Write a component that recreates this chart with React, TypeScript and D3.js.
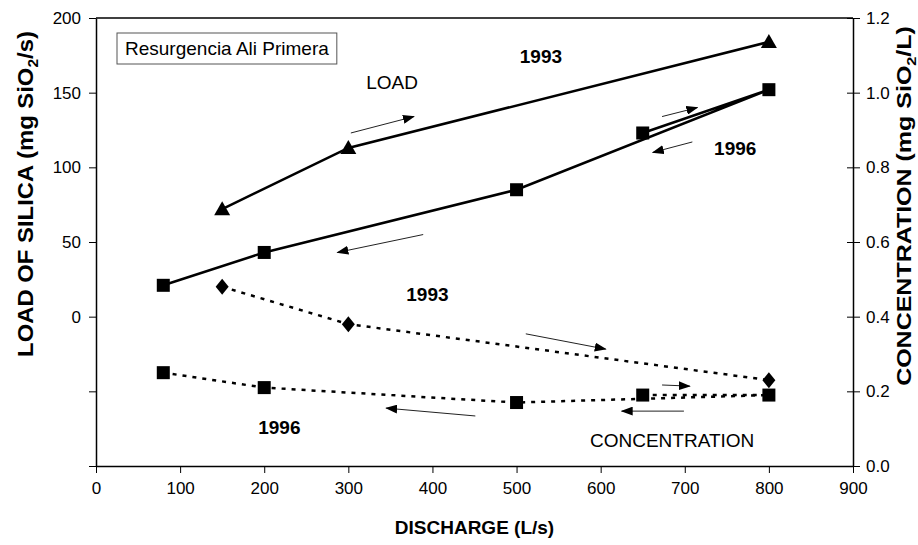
import React, { useEffect, useRef } from 'react';
import * as d3 from 'd3';

// discharge ticks and axis ticks
const xTicks = [0, 100, 200, 300, 400, 500, 600, 700, 800, 900];
const loadTicks = [-100, -50, 0, 50, 100, 150, 200];
const concTicks = [0, 0.2, 0.4, 0.6, 0.8, 1.0, 1.2];

// LOAD 1993 (triangles)
const q93 = [150, 300, 800];
const load93 = [72, 113, 184];
// LOAD 1996 (squares), loop order: rising then falling
const q96 = [650, 800, 500, 200, 80];
const load96 = [123, 152, 85, 43, 21];
// CONCENTRATION 1993 (diamonds)
const conc93 = [0.48, 0.38, 0.23];
// CONCENTRATION 1996 (squares)
const conc96 = [0.19, 0.19, 0.17, 0.21, 0.25];

// hysteresis arrows [q1, v1, q2, v2]
const loadArrows = [
  [303, 123, 378, 134],
  [673, 134, 715, 140],
  [709, 117, 662, 110],
  [389, 55, 287, 43],
];
const concArrows = [
  [511, 0.354, 606, 0.313],
  [673, 0.217, 706, 0.214],
  [699, 0.147, 625, 0.147],
  [451, 0.134, 345, 0.155],
];

// annotation labels [text, q, value, bold]
const loadLabels: [string, number, number, boolean][] = [
  ['LOAD', 352, 157, false],
  ['1993', 529, 174, true],
  ['1996', 760, 113, true],
  ['1993', 394, 15, true],
];
const concLabels: [string, number, number, boolean][] = [
  ['1996', 218, 0.104, true],
  ['CONCENTRATION', 685, 0.07, false],
];

const font = 'Liberation Sans, Arial, sans-serif';

function App() {
  const svgRef = useRef<SVGSVGElement>(null);
  const width = 918;
  const height = 545;
  const left = 96;
  const right = 853;
  const top = 18;
  const bottom = 466;

  useEffect(() => {
    const svg = d3.select(svgRef.current);
    svg.selectAll('*').remove();

    const x = d3.scaleLinear().domain([0, 900]).range([left, right]);
    const yL = d3.scaleLinear().domain([-100, 200]).range([bottom, top]);
    const yR = d3.scaleLinear().domain([0, 1.2]).range([bottom, top]);

    svg.append('defs')
      .append('marker')
      .attr('id', 'ah')
      .attr('markerUnits', 'userSpaceOnUse')
      .attr('markerWidth', 12)
      .attr('markerHeight', 9)
      .attr('refX', 11)
      .attr('refY', 4.5)
      .attr('orient', 'auto')
      .append('path')
      .attr('d', 'M0,0 L12,4.5 L0,9 Z')
      .attr('fill', '#000');

    // frame top line
    svg.append('line')
      .attr('x1', left).attr('x2', right)
      .attr('y1', top).attr('y2', top)
      .attr('stroke', '#000').attr('stroke-width', 1.5);

    const styleAxis = (g: any) => {
      g.selectAll('.domain').attr('stroke', '#000').attr('stroke-width', 1.5);
      g.selectAll('.tick line').attr('stroke', '#000').attr('stroke-width', 1);
      g.selectAll('text').attr('font-family', font).attr('font-size', 17).attr('fill', '#000');
    };

    const gx = svg.append('g')
      .attr('transform', `translate(0,${bottom})`)
      .call(d3.axisBottom(x).tickValues(xTicks).tickSize(7).tickSizeOuter(0).tickPadding(9).tickFormat(d3.format('d')) as any);
    styleAxis(gx);

    const gl = svg.append('g')
      .attr('transform', `translate(${left},0)`)
      .call(d3.axisLeft(yL).tickValues(loadTicks).tickSize(7).tickSizeOuter(0).tickPadding(8)
        .tickFormat((d: any) => (d >= 0 ? String(d) : '')) as any);
    styleAxis(gl);

    const gr = svg.append('g')
      .attr('transform', `translate(${right},0)`)
      .call(d3.axisRight(yR).tickValues(concTicks).tickSize(7).tickSizeOuter(0).tickPadding(6)
        .tickFormat(d3.format('.1f')) as any);
    styleAxis(gr);
    gr.selectAll('.tick line').attr('x1', -6);

    // lines
    const lineLoad = d3.line<[number, number]>().x(d => x(d[0])).y(d => yL(d[1]));
    const lineConc = d3.line<[number, number]>().x(d => x(d[0])).y(d => yR(d[1]));
    const pts = (qs: number[], vs: number[]) => qs.map((q, i) => [q, vs[i]] as [number, number]);

    svg.append('path').attr('d', lineLoad(pts(q93, load93)))
      .attr('fill', 'none').attr('stroke', '#000').attr('stroke-width', 2.5);
    svg.append('path').attr('d', lineLoad(pts(q96, load96)))
      .attr('fill', 'none').attr('stroke', '#000').attr('stroke-width', 2.5);
    svg.append('path').attr('d', lineConc(pts(q93, conc93)))
      .attr('fill', 'none').attr('stroke', '#000').attr('stroke-width', 2.5).attr('stroke-dasharray', '4 6');
    svg.append('path').attr('d', lineConc(pts(q96, conc96)))
      .attr('fill', 'none').attr('stroke', '#000').attr('stroke-width', 2.5).attr('stroke-dasharray', '4 6');

    // markers
    const tri = 'M0,-8 L8,6 L-8,6 Z';
    const dia = 'M0,-8 L6.5,0 L0,8 L-6.5,0 Z';
    svg.append('g').selectAll('path').data(pts(q93, load93)).join('path')
      .attr('d', tri).attr('transform', d => `translate(${x(d[0])},${yL(d[1])})`).attr('fill', '#000');
    svg.append('g').selectAll('rect').data(pts(q96, load96)).join('rect')
      .attr('x', d => x(d[0]) - 6.5).attr('y', d => yL(d[1]) - 6.5)
      .attr('width', 13).attr('height', 13).attr('fill', '#000');
    svg.append('g').selectAll('path').data(pts(q93, conc93)).join('path')
      .attr('d', dia).attr('transform', d => `translate(${x(d[0])},${yR(d[1])})`).attr('fill', '#000');
    svg.append('g').selectAll('rect').data(pts(q96, conc96)).join('rect')
      .attr('x', d => x(d[0]) - 6.5).attr('y', d => yR(d[1]) - 6.5)
      .attr('width', 13).attr('height', 13).attr('fill', '#000');

    // arrows
    const drawArrows = (arr: number[][], y: any) => {
      svg.append('g').selectAll('line').data(arr).join('line')
        .attr('x1', d => x(d[0])).attr('y1', d => y(d[1]))
        .attr('x2', d => x(d[2])).attr('y2', d => y(d[3]))
        .attr('stroke', '#222').attr('stroke-width', 1)
        .attr('marker-end', 'url(#ah)');
    };
    drawArrows(loadArrows, yL);
    drawArrows(concArrows, yR);

    // labels
    const drawLabels = (arr: [string, number, number, boolean][], y: any) => {
      svg.append('g').selectAll('text').data(arr).join('text')
        .attr('x', d => x(d[1])).attr('y', d => y(d[2]))
        .attr('dy', '0.35em')
        .attr('text-anchor', 'middle')
        .attr('font-family', font).attr('font-size', 19)
        .attr('font-weight', d => (d[3] ? 'bold' : 'normal'))
        .text(d => d[0]);
    };
    drawLabels(loadLabels, yL);
    drawLabels(concLabels, yR);

    // site box
    const box = svg.append('g').attr('transform', `translate(${left + 21},${top + 15})`);
    const boxText = box.append('text')
      .attr('x', 8).attr('y', 22)
      .attr('font-family', font).attr('font-size', 19)
      .text('Resurgencia Ali Primera');
    const bw = (boxText.node() as SVGTextElement).getComputedTextLength();
    box.insert('rect', 'text')
      .attr('width', bw + 16).attr('height', 31)
      .attr('fill', '#fff').attr('stroke', '#555').attr('stroke-width', 1);

    // axis titles
    svg.append('text')
      .attr('x', (left + right) / 2).attr('y', 534)
      .attr('text-anchor', 'middle')
      .attr('font-family', font).attr('font-size', 19).attr('font-weight', 'bold')
      .text('DISCHARGE (L/s)');

    // rotated titles, stretched to the length seen in the reference
    const yTitle = (tx: number, ty: number, size: number, len: number, pre: string, post: string) => {
      const t = svg.append('text')
        .attr('text-anchor', 'middle')
        .attr('font-family', font).attr('font-size', size).attr('font-weight', 'bold');
      t.append('tspan').text(pre);
      t.append('tspan').attr('font-size', size * 0.65).attr('dy', 5).text('2');
      t.append('tspan').attr('dy', -5).text(post);
      const natural = (t.node() as SVGTextElement).getComputedTextLength();
      t.attr('transform', `translate(${tx},${ty}) rotate(-90) scale(${len / natural},1)`);
    };
    yTitle(33, 194, 22, 326, 'LOAD OF SILICA (mg SiO', '/s)');
    yTitle(911, 206, 20, 360, 'CONCENTRATION (mg SiO', '/L)');
  }, []);

  return (
    <svg
      ref={svgRef}
      width={width}
      height={height}
      style={{ position: 'absolute', left: 0, top: 0, background: '#fff' }}
    />
  );
}

export default App;
